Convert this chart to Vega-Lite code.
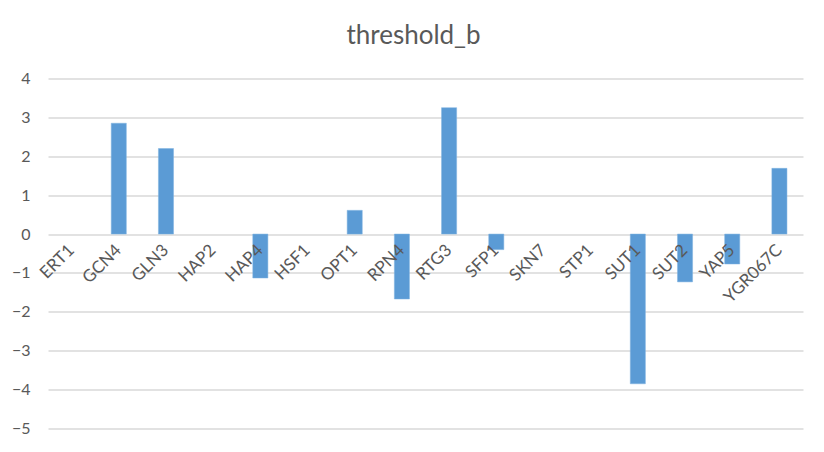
{
  "$schema": "https://vega.github.io/schema/vega-lite/v6.json",
  "width": 755,
  "height": 350,
  "autosize": "none",
  "padding": {"left": 48, "top": 78.5, "right": 21, "bottom": 23.5},
  "background": "white",
  "title": {"text": "threshold_b", "fontSize": 26, "font": "Lato", "fontWeight": "normal", "color": "#595959", "offset": 22, "dx": -12},
  "data": {"values": [
    {"gene": "ERT1", "value": null},
    {"gene": "GCN4", "value": 2.85},
    {"gene": "GLN3", "value": 2.2},
    {"gene": "HAP2", "value": null},
    {"gene": "HAP4", "value": -1.13},
    {"gene": "HSF1", "value": null},
    {"gene": "OPT1", "value": 0.61},
    {"gene": "RPN4", "value": -1.67},
    {"gene": "RTG3", "value": 3.25},
    {"gene": "SFP1", "value": -0.4},
    {"gene": "SKN7", "value": null},
    {"gene": "STP1", "value": null},
    {"gene": "SUT1", "value": -3.85},
    {"gene": "SUT2", "value": -1.23},
    {"gene": "YAP5", "value": -0.77},
    {"gene": "YGR067C", "value": 1.69}
  ]},
  "mark": {"type": "bar", "color": "#5b9bd5", "stroke": "#7fb2e0", "strokeWidth": 0.5},
  "encoding": {
    "x": {"field": "gene", "type": "nominal", "sort": null,
      "scale": {"domain": ["ERT1","GCN4","GLN3","HAP2","HAP4","HSF1","OPT1","RPN4","RTG3","SFP1","SKN7","STP1","SUT1","SUT2","YAP5","YGR067C"], "paddingInner": 0.68, "paddingOuter": 0.34},
      "axis": {"title": null, "offset": -194.2, "labelAngle": -45, "labelAlign": "right", "labelBaseline": "middle", "labelPadding": 13, "labelFont": "Lato", "labelFontSize": 17, "labelColor": "#595959", "ticks": false, "domain": false, "zindex": 1}},
    "y": {"field": "value", "type": "quantitative",
      "scale": {"domain": [-5, 4], "nice": false},
      "axis": {"title": null, "values": [-5,-4,-3,-2,-1,0,1,2,3,4], "tickCount": 10, "labelFont": "Lato", "labelFontSize": 16, "labelColor": "#595959", "labelPadding": 18, "ticks": false, "domain": false, "grid": true, "gridColor": "#d9d9d9", "gridWidth": 1.3}}
  },
  "config": {"view": {"stroke": null}}
}
